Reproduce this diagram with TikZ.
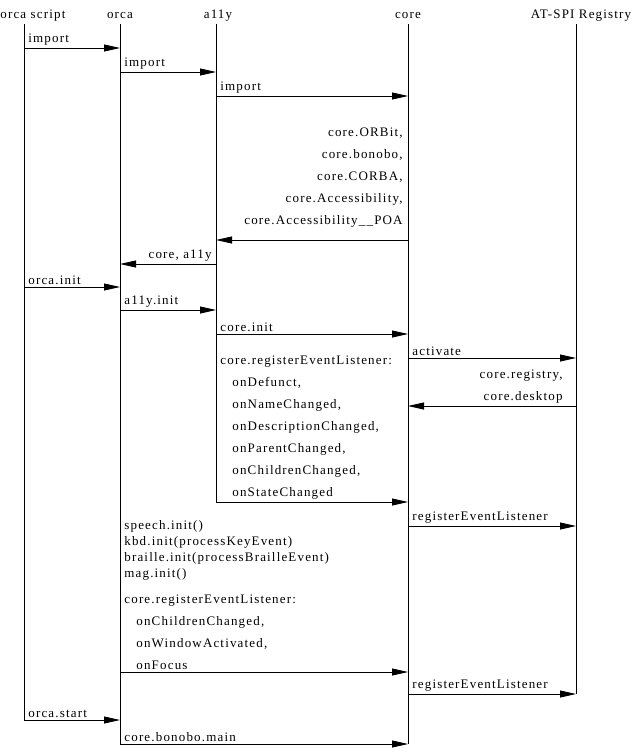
\documentclass[tikz,border=0pt]{standalone}
\usepackage{fontspec}
\setmainfont{Liberation Serif}[LetterSpace=9]
\usetikzlibrary{positioning,arrows.meta}

\begin{document}
\begin{tikzpicture}[x=1pt, y=-1pt, line width=0.8pt,
	msg/.style={-{Triangle[length=16pt,width=7pt]}},
	every node/.style={font=\fontsize{13}{22}\selectfont, inner sep=0pt},
	lbl/.style={pos=0, anchor=south west, align=left, xshift=4pt, yshift=2pt},
	rlbl/.style={pos=0, anchor=south east, align=right, xshift=-5pt, yshift=2pt}]
	\useasboundingbox (0,0) rectangle (638,755);

	% lifeline heads
	\node[anchor=base west] (hs) at (0,18)   {orca script};
	\node[anchor=base]      (ho) at (120,18) {orca};
	\node[anchor=base]      (ha) at (218,18) {a11y};
	\node[anchor=base]      (hc) at (408,18) {core};
	\node[anchor=base]      (hr) at (581,18) {AT-SPI Registry};

	\coordinate (s) at (24,24);
	\coordinate (o) at (120,24);
	\coordinate (a) at (216,24);
	\coordinate (c) at (408,24);
	\coordinate (r) at (576,24);

	% lifelines
	\draw (s) -- (s |- 0,720);
	\draw (o) -- (o |- 0,744);
	\draw (a) -- (a |- 0,502);
	\draw (c) -- (c |- 0,744);
	\draw (r) -- (r |- 0,694);

	% messages
	\draw[msg] (s |- 0,48) -- (o |- 0,48) node[lbl] {import};
	\draw[msg] (o |- 0,72) -- (a |- 0,72) node[lbl] {import};
	\draw[msg] (a |- 0,96) -- (c |- 0,96) node[lbl] {import};
	\draw[msg] (c |- 0,240) -- (a |- 0,240) node[rlbl, yshift=10pt]
		{core.ORBit,\\core.bonobo,\\core.CORBA,\\core.Accessibility,\\core.Accessibility\_\_POA};
	\draw[msg] (a |- 0,264) -- (o |- 0,264) node[rlbl, xshift=1pt] {core, a11y};
	\draw[msg] (s |- 0,287) -- (o |- 0,287) node[lbl] {orca.init};
	\draw[msg] (o |- 0,310) -- (a |- 0,310) node[lbl] {a11y.init};
	\draw[msg] (a |- 0,334) -- (c |- 0,334) node[lbl] {core.init};
	\draw[msg] (c |- 0,358) -- (r |- 0,358) node[lbl] {activate};
	\draw[msg] (r |- 0,406) -- (c |- 0,406) node[rlbl, xshift=-8pt] {core.registry,\\core.desktop};
	\draw[msg] (a |- 0,502) -- (c |- 0,502) node[lbl]
		{core.registerEventListener:\\
		\hspace*{12pt}onDefunct,\\
		\hspace*{12pt}onNameChanged,\\
		\hspace*{12pt}onDescriptionChanged,\\
		\hspace*{12pt}onParentChanged,\\
		\hspace*{12pt}onChildrenChanged,\\
		\hspace*{12pt}onStateChanged};
	\draw[msg] (c |- 0,526) -- (r |- 0,526) node[lbl] {registerEventListener};
	\draw[msg] (o |- 0,672) -- (c |- 0,672) node[lbl]
		{speech.init()\\[-6pt]
		kbd.init(processKeyEvent)\\[-6pt]
		braille.init(processBrailleEvent)\\[-6pt]
		mag.init()\\[4pt]
		core.registerEventListener:\\
		\hspace*{12pt}onChildrenChanged,\\
		\hspace*{12pt}onWindowActivated,\\
		\hspace*{12pt}onFocus};
	\draw[msg] (c |- 0,694) -- (r |- 0,694) node[lbl] {registerEventListener};
	\draw[msg] (s |- 0,720) -- (o |- 0,720) node[lbl] {orca.start};
	\draw[msg] (o |- 0,744) -- (c |- 0,744) node[lbl] {core.bonobo.main};
\end{tikzpicture}
\end{document}
